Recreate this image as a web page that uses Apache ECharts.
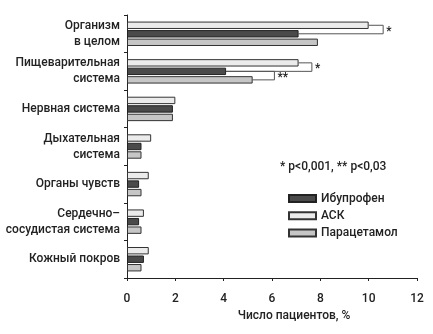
<!DOCTYPE html>
<html>
<head>
<meta charset="utf-8">
<script src="https://cdn.jsdelivr.net/npm/echarts@6/dist/echarts.min.js"></script>
<style>
html,body{margin:0;padding:0;background:#fff;}
#c{width:433px;height:334px;}
</style>
</head>
<body>
<div id="c"></div>
<script>
const categories = ['Организм\nв целом', 'Пищеварительная\nсистема', 'Нервная система', 'Дыхательная\nсистема', 'Органы чувств', 'Сердечно–\nсосудистая система', 'Кожный покров'];
const seriesNames = ['АСК', 'Ибупрофен', 'Парацетамол'];
const legendOrder = ['Ибупрофен', 'АСК', 'Парацетамол'];
const askValues = [10.0, 7.1, 2.0, 1.0, 0.9, 0.7, 0.9];
const ibuValues = [7.1, 4.1, 1.9, 0.6, 0.5, 0.5, 0.7];
const paraValues = [7.9, 5.2, 1.9, 0.6, 0.6, 0.6, 0.6];
const xTicks = [0, 2, 4, 6, 8, 10, 12];
const footnote = '* p<0,001, ** p<0,03';
const xName = 'Число пациентов, %';
// significance brackets
const bracketCategory = [0, 1, 1];
const bracketFrom = [0, 0, 1];
const bracketTo = [1, 1, 2];
const bracketReach = [10.6, 7.65, 6.1];
const bracketLabels = ['*', '*', '**'];

const FONT = 'Roboto, "Liberation Sans", Arial, sans-serif';
const FW = 500;
const FS = 12;
const valuesBySeries = [askValues, ibuValues, paraValues];
const fills = ['#ebebeb', '#4a4a4a', '#c6c6c6'];
const borders = ['#333', '#222', '#333'];
const CAT_GAP = 0.35, BAR_GAP = 0.15;

const bracketData = bracketCategory.map((c, i) => [
  c, bracketReach[i], bracketFrom[i], bracketTo[i],
  valuesBySeries[bracketFrom[i]][c], valuesBySeries[bracketTo[i]][c], i
]);

const chart = echarts.init(document.getElementById('c'), null, {renderer: 'canvas'});
const barSeries = seriesNames.map((n, k) => ({
  name: n,
  type: 'bar',
  data: valuesBySeries[k],
  barGap: (BAR_GAP * 100) + '%',
  barCategoryGap: (CAT_GAP * 100) + '%',
  itemStyle: {color: fills[k], borderColor: borders[k], borderWidth: 1},
  emphasis: {disabled: true},
  z: 3
}));

chart.setOption({
  animation: false,
  backgroundColor: '#fff',
  textStyle: {fontFamily: FONT, fontWeight: FW},
  grid: {left: 127, right: 16, top: 15, bottom: 56, containLabel: false, outerBoundsMode: 'none'},
  legend: {
    data: legendOrder,
    orient: 'vertical',
    left: 288, top: 191.5, padding: 0,
    itemWidth: 27, itemHeight: 7, itemGap: 3.3,
    icon: 'rect',
    textStyle: {fontFamily: FONT, fontWeight: FW, fontSize: FS, lineHeight: 14, color: '#222'},
    selectedMode: false
  },
  xAxis: {
    type: 'value', min: 0, max: 12, interval: 2,
    axisLine: {show: true, lineStyle: {color: '#222', width: 1}},
    axisTick: {show: true, length: 3, lineStyle: {color: '#222'}},
    splitLine: {show: false},
    axisLabel: {
      fontFamily: FONT, fontWeight: FW, fontSize: FS, color: '#222', margin: 15,
      formatter: v => xTicks.includes(v) ? String(v) : ''
    },
    name: xName, nameLocation: 'middle', nameGap: 29,
    nameTextStyle: {fontFamily: FONT, fontWeight: FW, fontSize: FS, color: '#222', padding: [0, 0, 0, 44]}
  },
  yAxis: {
    type: 'category', data: categories, inverse: true,
    axisLine: {show: true, lineStyle: {color: '#222', width: 1}},
    axisTick: {show: true, length: 3, lineStyle: {color: '#222'}},
    axisLabel: {fontFamily: FONT, fontWeight: FW, fontSize: FS, color: '#222', margin: 7, lineHeight: 16, align: 'right'}
  },
  graphic: [{
    type: 'text', left: 280, top: 161,
    style: {text: footnote, fontFamily: FONT, fontWeight: FW, fontSize: FS, fill: '#222'}
  }],
  series: barSeries.concat([{
    type: 'custom',
    name: 'brackets',
    data: bracketData,
    encode: {x: 1, y: 0},
    z: 1,
    silent: true,
    renderItem: function (params, api) {
      const cat = api.value(0);
      const reach = api.value(1);
      const fromK = api.value(2), toK = api.value(3);
      const fromV = api.value(4), toV = api.value(5);
      const idx = api.value(6);
      const band = api.size([0, 1])[1];
      const barW = band * (1 - CAT_GAP) / (3 + 2 * BAR_GAP);
      const step = barW * (1 + BAR_GAP);
      const cy = api.coord([0, cat])[1];
      const y1 = cy + (fromK - 1) * step;
      const y2 = cy + (toK - 1) * step;
      const xr = api.coord([reach, cat])[0];
      const xa = api.coord([fromV, cat])[0];
      const xb = api.coord([toV, cat])[0];
      return {
        type: 'group',
        children: [{
          type: 'polyline',
          shape: {points: [[xa, y1], [xr, y1], [xr, y2], [xb, y2]]},
          style: {stroke: '#555', lineWidth: 1, fill: null}
        }, {
          type: 'text',
          style: {
            text: bracketLabels[idx], x: xr + 3, y: (y1 + y2) / 2 + 2,
            fontFamily: FONT, fontWeight: FW, fontSize: 12, fill: '#222',
            verticalAlign: 'middle', align: 'left'
          }
        }]
      };
    }
  }])
});
</script>
</body>
</html>
